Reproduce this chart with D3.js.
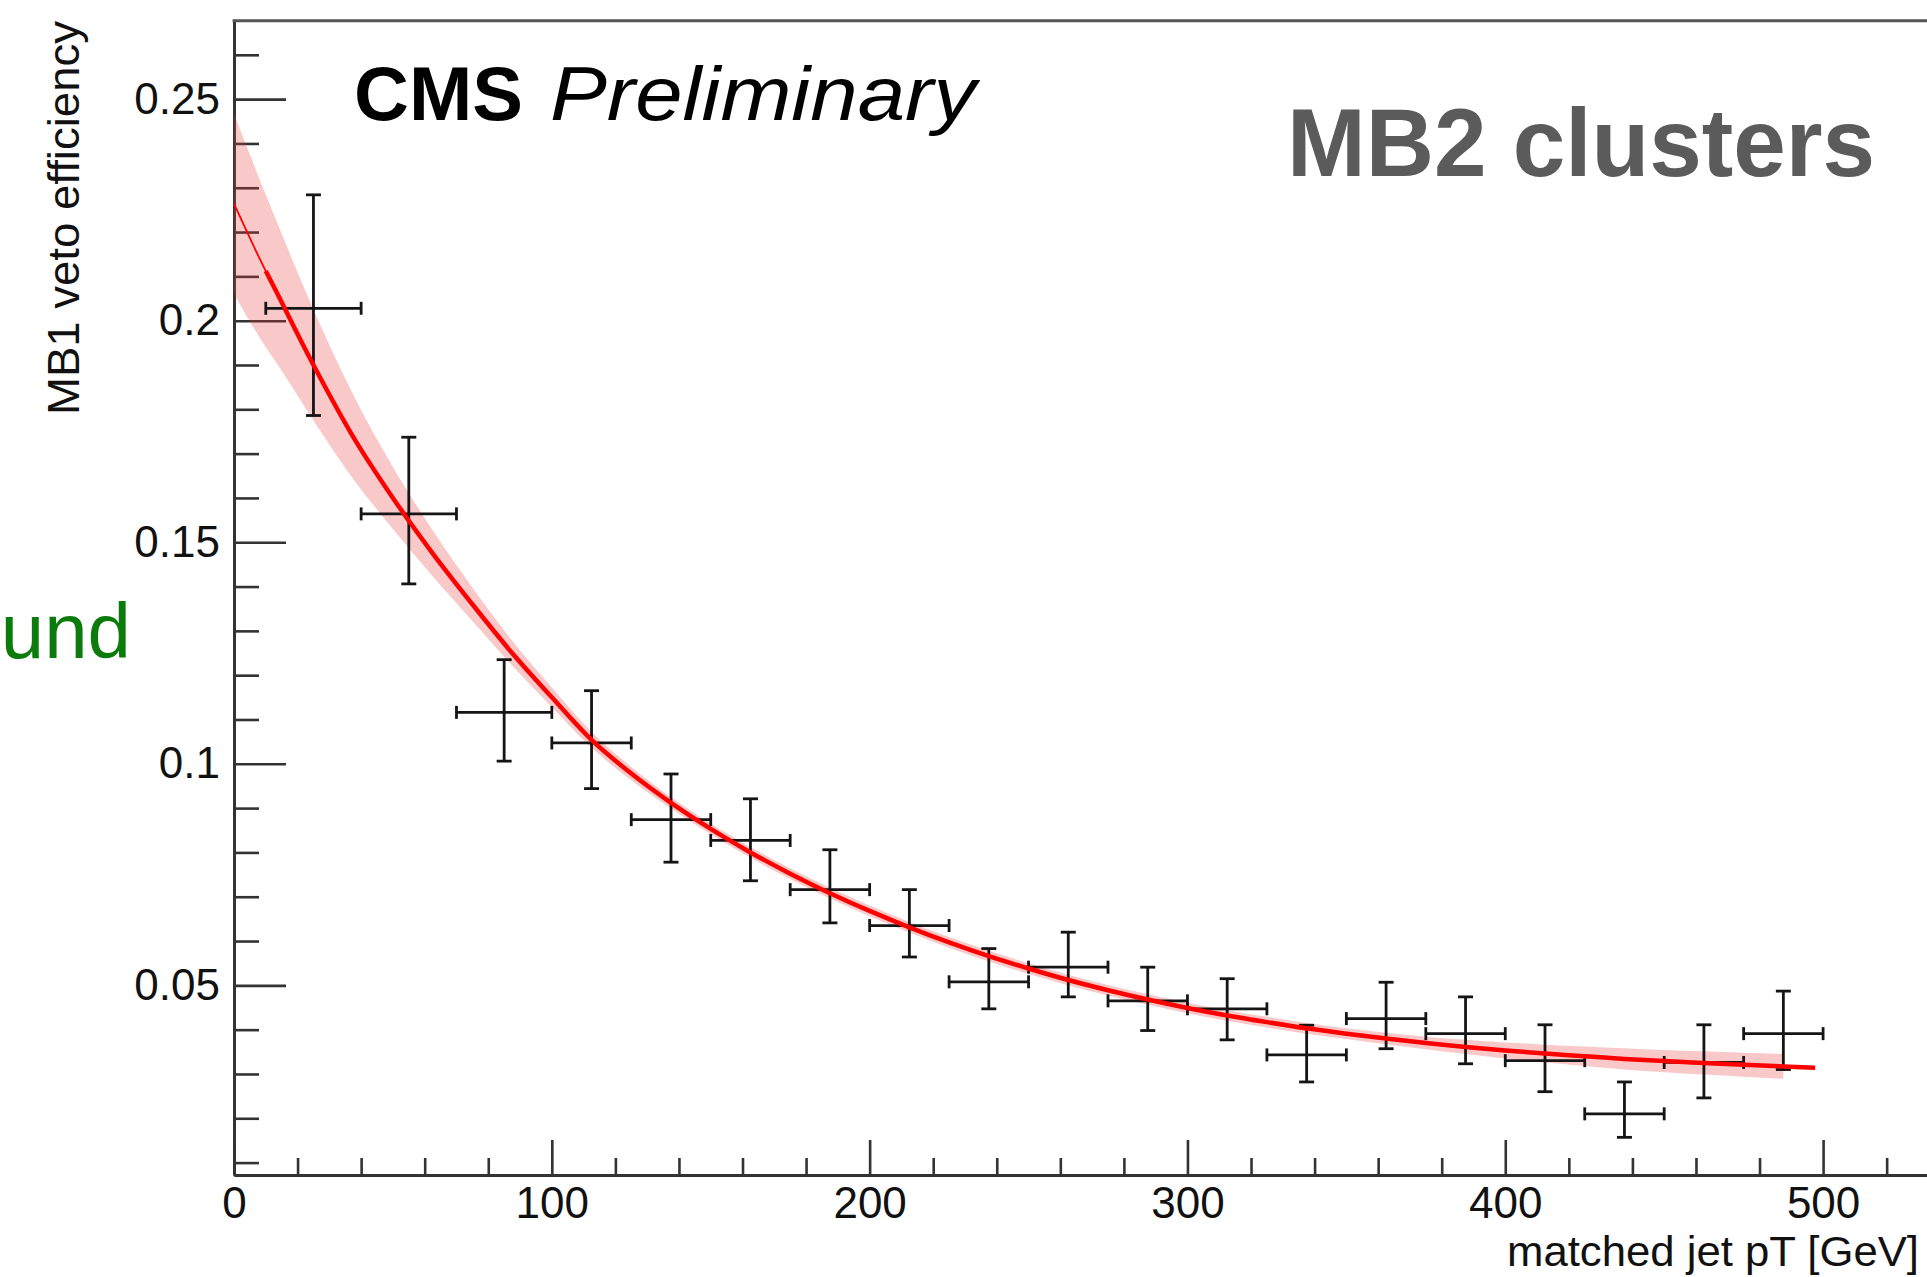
<!DOCTYPE html>
<html><head><meta charset="utf-8">
<script src="https://cdn.jsdelivr.net/npm/d3@7"></script>
<style>html,body{margin:0;padding:0;background:#fff;overflow:hidden}</style>
</head><body>
<svg id="chart" width="1927" height="1277"></svg>
<script>
// ---- data ----
const binLow    = [10, 40, 70, 100, 125, 150, 175, 200, 225, 250, 275, 300, 325, 350, 375, 400, 425, 450, 475];
const binHigh   = [40, 70, 100, 125, 150, 175, 200, 225, 250, 275, 300, 325, 350, 375, 400, 425, 450, 475, 500];
const binCenter = [25, 55, 85, 112.5, 137.5, 162.5, 187.5, 212.5, 237.5, 262.5, 287.5, 312.5, 337.5, 362.5, 387.5, 412.5, 437.5, 462.5, 487.5];
const effValue  = [0.2028, 0.1564, 0.1116, 0.1047, 0.0874, 0.0827, 0.0716, 0.0635, 0.0508, 0.0541, 0.0465, 0.0447, 0.0343, 0.0425, 0.0391, 0.0330, 0.0210, 0.0326, 0.0391];
const effUpper  = [0.2284, 0.1737, 0.1235, 0.1165, 0.0977, 0.0921, 0.0806, 0.0716, 0.0583, 0.0620, 0.0541, 0.0515, 0.0410, 0.0507, 0.0474, 0.0411, 0.0282, 0.0411, 0.0487];
const effLower  = [0.1786, 0.1406, 0.1006, 0.0944, 0.0778, 0.0736, 0.0641, 0.0564, 0.0447, 0.0474, 0.0398, 0.0377, 0.0282, 0.0357, 0.0323, 0.0260, 0.0157, 0.0246, 0.0310];

const fitX = [0, 10, 12.5, 25, 37.5, 50, 62.5, 75, 87.5, 100, 112.5, 125, 137.5, 150, 162.5, 175, 187.5, 200, 212.5, 225, 237.5, 250, 262.5, 275, 287.5, 300, 312.5, 325, 337.5, 350, 362.5, 375, 387.5, 400, 412.5, 425, 437.5, 450, 462.5, 475, 487.5, 497.5];
const fitY = [0.2264, 0.2112, 0.2077, 0.1900, 0.1738, 0.1600, 0.1475, 0.1360, 0.1250, 0.1150, 0.1054, 0.0978, 0.0912, 0.0853, 0.0800, 0.0752, 0.0708, 0.0668, 0.0631, 0.0597, 0.0566, 0.0538, 0.0512, 0.0489, 0.0468, 0.0449, 0.0432, 0.0417, 0.0403, 0.0391, 0.0380, 0.0370, 0.0361, 0.0353, 0.0346, 0.0340, 0.0334, 0.0329, 0.0325, 0.0321, 0.0317, 0.0314];
const fitBandHalf = [0.0203, 0.0172, 0.0163, 0.0125, 0.0095, 0.0070, 0.0052, 0.0038, 0.0028, 0.0022, 0.0018, 0.0015, 0.0013, 0.0012, 0.0012, 0.0012, 0.0012, 0.0012, 0.0012, 0.0012, 0.0012, 0.0012, 0.0012, 0.0012, 0.0012, 0.0012, 0.0012, 0.0012, 0.0012, 0.0012, 0.0013, 0.0014, 0.0016, 0.0018, 0.0020, 0.0022, 0.0024, 0.0025, 0.0026, 0.0027, 0.0028];

const xTicks = [0, 100, 200, 300, 400, 500];
const xTickLabels = ["0", "100", "200", "300", "400", "500"];
const yTicks = [0.05, 0.1, 0.15, 0.2, 0.25];
const yTickLabels = ["0.05", "0.1", "0.15", "0.2", "0.25"];

// ---- drawing ----
const W = 1927, H = 1277;
const svg = d3.select("#chart");
svg.append("rect").attr("width", W).attr("height", H).attr("fill", "#fff");

const x = d3.scaleLinear().domain([0, 550]).range([234, 1982]);
const y = d3.scaleLinear().domain([0.0072, 0.2677]).range([1175, 20.7]);
const FONT = "'Liberation Sans', Arial, Helvetica, sans-serif";
const AX = "#333";

const xMinor = d3.range(0, 560, 20).filter(v => v % 100 !== 0);
const yMinor = d3.range(1, 27).map(v => v / 100).filter(v => Math.round(v * 100) % 5 !== 0);

function styleAxis(g) {
  g.selectAll("path.domain").attr("stroke", AX).attr("stroke-width", 2.8);
  g.selectAll(".tick line").attr("stroke", AX).attr("stroke-width", 2.6);
  g.selectAll(".tick text").attr("font-family", FONT).attr("font-size", 44).attr("fill", "#111");
}

// x axis
const gxm = svg.append("g").attr("transform", `translate(0,${y.range()[0]})`)
  .call(d3.axisBottom(x).tickValues(xMinor).tickSize(-17).tickSizeOuter(0).tickFormat(""));
styleAxis(gxm);
const gx = svg.append("g").attr("transform", `translate(0,${y.range()[0]})`)
  .call(d3.axisBottom(x).tickValues(xTicks).tickSize(-35).tickSizeOuter(0).tickPadding(12)
        .tickFormat((d, i) => xTickLabels[i]));
styleAxis(gx);

// y axis
const gym = svg.append("g").attr("transform", `translate(${x.range()[0]},0)`)
  .call(d3.axisLeft(y).tickValues(yMinor).tickSize(-25).tickSizeOuter(0).tickFormat(""));
styleAxis(gym);
const gy = svg.append("g").attr("transform", `translate(${x.range()[0]},0)`)
  .call(d3.axisLeft(y).tickValues(yTicks).tickSize(-52).tickSizeOuter(0).tickPadding(14)
        .tickFormat((d, i) => yTickLabels[i]));
styleAxis(gy);

// top frame
svg.append("line").attr("x1", x.range()[0] - 1.4).attr("x2", W + 10)
  .attr("y1", y.range()[1]).attr("y2", y.range()[1])
  .attr("stroke", "#555").attr("stroke-width", 3);

// fit uncertainty band
const bandData = fitBandHalf.map((h, i) => ({x: fitX[i], v: fitY[i], h}));
svg.append("path").datum(bandData)
  .attr("d", d3.area().x(d => x(d.x)).y0(d => y(d.v - d.h)).y1(d => y(d.v + d.h)).curve(d3.curveMonotoneX))
  .attr("fill", "rgb(235,60,60)").attr("fill-opacity", 0.28);

// error bars
const pts = binCenter.map((c, i) => ({c, lo: binLow[i], hi: binHigh[i], v: effValue[i], up: effUpper[i], dn: effLower[i]}));
const eb = svg.append("g").attr("stroke", "#151515").attr("stroke-width", 2.8).attr("fill", "none");
pts.forEach(p => {
  const g = eb.append("g");
  g.append("line").attr("x1", x(p.c)).attr("x2", x(p.c)).attr("y1", y(p.dn)).attr("y2", y(p.up));
  g.append("line").attr("x1", x(p.lo)).attr("x2", x(p.hi)).attr("y1", y(p.v)).attr("y2", y(p.v));
  [p.dn, p.up].forEach(e => g.append("line").attr("x1", x(p.c) - 7.5).attr("x2", x(p.c) + 7.5).attr("y1", y(e)).attr("y2", y(e)));
  [p.lo, p.hi].forEach(e => g.append("line").attr("x1", x(e)).attr("x2", x(e)).attr("y1", y(p.v) - 6.5).attr("y2", y(p.v) + 6.5));
});

// fit curve
const fitData = fitX.map((xv, i) => ({x: xv, v: fitY[i]}));
const line = d3.line().x(d => x(d.x)).y(d => y(d.v)).curve(d3.curveMonotoneX);
svg.append("path").datum(fitData.slice(0, 3)).attr("d", line)
  .attr("fill", "none").attr("stroke", "#ff0000").attr("stroke-width", 1.8);
svg.append("path").datum(fitData.slice(1)).attr("d", line)
  .attr("fill", "none").attr("stroke", "#ff0000").attr("stroke-width", 4.5).attr("stroke-linejoin", "round");

// texts
svg.append("text").attr("transform", "translate(79,21) rotate(-90)").attr("text-anchor", "end")
  .attr("font-family", FONT).attr("font-size", 45).attr("fill", "#111")
  .attr("textLength", 394).attr("lengthAdjust", "spacingAndGlyphs").text("MB1 veto efficiency");
svg.append("text").attr("x", 1507).attr("y", 1266).attr("font-family", FONT).attr("font-size", 42)
  .attr("fill", "#111").attr("textLength", 412).attr("lengthAdjust", "spacingAndGlyphs")
  .text("matched jet pT [GeV]");
svg.append("text").attr("x", 354).attr("y", 120).attr("font-family", FONT).attr("font-size", 76)
  .attr("font-weight", "bold").attr("fill", "#000").text("CMS");
svg.append("text").attr("x", 550).attr("y", 120).attr("font-family", FONT).attr("font-size", 76)
  .attr("font-style", "italic").attr("fill", "#000")
  .attr("textLength", 426).attr("lengthAdjust", "spacingAndGlyphs").text("Preliminary");
svg.append("text").attr("x", 1287).attr("y", 176).attr("font-family", FONT).attr("font-size", 96)
  .attr("font-weight", "bold").attr("fill", "#5b5b5b")
  .attr("textLength", 588).attr("lengthAdjust", "spacingAndGlyphs").text("MB2 clusters");
svg.append("text").attr("x", 131).attr("y", 658).attr("text-anchor", "end").attr("font-family", FONT)
  .attr("font-size", 78).attr("fill", "#0b7b0b").text("und");
</script>
</body></html>
